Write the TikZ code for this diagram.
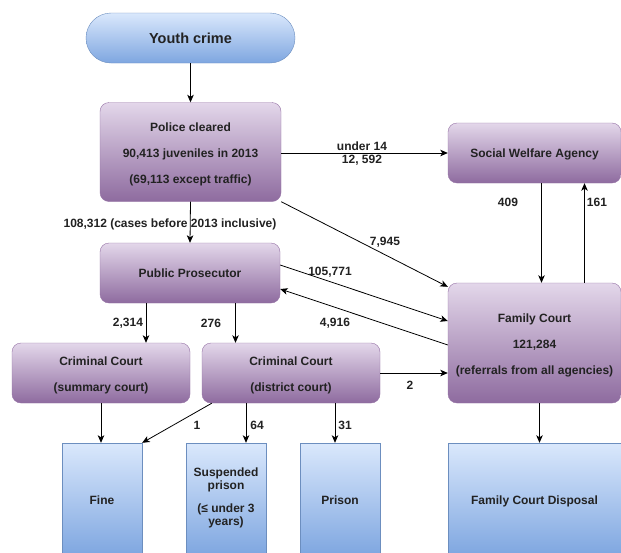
\documentclass[tikz,border=0pt]{standalone}
\usepackage{fontspec}
\setmainfont{Liberation Sans}
\usetikzlibrary{arrows.meta,calc}
\definecolor{pTop}{HTML}{E3D7EA}
\definecolor{pBot}{HTML}{8E6B9F}
\definecolor{pEdge}{HTML}{9673A6}
\definecolor{bTop}{HTML}{DAE8FC}
\definecolor{bBot}{HTML}{7EA6E0}
\definecolor{bEdge}{HTML}{6C8EBF}
\definecolor{txt}{HTML}{222222}
\newcommand\myOneStrut{\rule[-3pt]{0pt}{15pt}}
\newcommand\myDepthStrut[1]{\rule[-#1]{0pt}{#1}}
\begin{document}
\begin{tikzpicture}[x=1pt,y=-1pt,
  pbox/.style={draw=pEdge, rounded corners=9pt, top color=pTop, bottom color=pBot,
    font=\bfseries\fontsize{12}{26}\selectfont, align=center, inner sep=0pt, text=txt},
  bbox/.style={draw=bEdge, top color=bTop, bottom color=bBot,
    font=\bfseries\fontsize{12}{13}\selectfont, align=center, inner sep=0pt, text=txt},
  arr/.style={-{Stealth[length=7.5pt,width=6.5pt,inset=2pt]}, line width=0.8pt},
  lab/.style={font=\bfseries\fontsize{12}{13}\selectfont, inner sep=0pt, text=txt, align=center}]
\fill[white] (0,0) rectangle (621,552);
\useasboundingbox (0,0) rectangle (621,552);

% nodes
\node[draw=bEdge, rounded corners=25pt, top color=bTop, bottom color=bBot,
      minimum width=209pt, minimum height=50pt, inner sep=0pt, text=txt,
      font=\bfseries\fontsize{14.5}{16}\selectfont] (yc) at (190.5,38)
      {\rule[-3.6pt]{0pt}{17.6pt}Youth crime};
\node[pbox, minimum width=181pt, minimum height=99pt] (pol) at (190.5,152)
  {\rule{0pt}{14.6pt}Police cleared\\90,413 juveniles in 2013\\(69,113 except traffic)\myDepthStrut{3pt}};
\node[pbox, minimum width=173pt, minimum height=60pt] (swa) at (534.5,153) {\myOneStrut Social Welfare Agency};
\node[pbox, minimum width=180pt, minimum height=60pt] (pros) at (190,273) {\myOneStrut Public Prosecutor};
\node[pbox, minimum width=173pt, minimum height=120pt] (fc) at (534.5,343)
  {\rule{0pt}{14.6pt}Family Court\\121,284\\(referrals from all agencies)\myDepthStrut{3pt}};
\node[pbox, minimum width=178pt, minimum height=60pt] (sc) at (101,373)
  {\rule{0pt}{13.6pt}Criminal Court\\(summary court)\myDepthStrut{3pt}};
\node[pbox, minimum width=178pt, minimum height=60pt] (dc) at (291,373)
  {\rule{0pt}{13.6pt}Criminal Court\\(district court)\myDepthStrut{3pt}};
\node[bbox, minimum width=80pt, minimum height=113pt] (fine) at (102,499.5) {\myOneStrut Fine};
\node[bbox, minimum width=80pt, minimum height=113pt] (susp) at (226,499.5)
  {Suspended\\prison\\[10pt](≤ under 3\\years)\myDepthStrut{6.2pt}};
\node[bbox, minimum width=80pt, minimum height=113pt] (pri) at (340,499.5) {\myOneStrut Prison};
\node[bbox, minimum width=173pt, minimum height=113pt] (fcd) at (534.5,499.5) {\myOneStrut Family Court Disposal};

% helper coordinates on box edges
\path ($(swa.south)+(7,0)$) coordinate (s409)
      ($(fc.north)+(50,0)$) coordinate (f161)
      ($(pros.south)+(-44,0)$) coordinate (p2314)
      ($(pros.south)+(45.5,0)$) coordinate (p276)
      ($(dc.south west)+(10,0)$) coordinate (d1)
      ($(dc.south)+(-45,0)$) coordinate (d64)
      ($(dc.south)+(44,0)$) coordinate (d31)
      ($(fc.south)+(5,0)$) coordinate (fdown)
      ($(fc.north west)+(0,4)$) coordinate (fnw)
      ($(pros.east)+(0,-8)$) coordinate (pe1)
      ($(fc.west)+(0,-22)$) coordinate (fw1)
      ($(fc.west)+(0,2)$) coordinate (fw2)
      ($(pros.east)+(0,16)$) coordinate (pe2);

% connectors
\draw[arr] (yc.south) -- (yc.south |- pol.north);
\draw[arr] (pol.east |- swa.west) -- (swa.west);
\draw[arr] (pol.south) -- (pros.north);
\draw[arr] (pol.south east) -- (fnw);
\draw[arr] (pe1) -- (fw1);
\draw[arr] (fw2) -- (pe2);
\draw[arr] (s409) -- (s409 |- fc.north);
\draw[arr] (f161) -- (f161 |- swa.south);
\draw[arr] (p2314) -- (p2314 |- sc.north);
\draw[arr] (p276) -- (p276 |- dc.north);
\draw[arr] (dc.east) -- (dc.east -| fc.west);
\draw[arr] (sc.south) -- (sc.south |- fine.north);
\draw[arr] (d1) -- (fine.north east);
\draw[arr] (d64) -- (d64 |- susp.north);
\draw[arr] (d31) -- (d31 |- pri.north);
\draw[arr] (fdown) -- (fdown |- fcd.north);

% labels
\node[lab] (l14) at (362,154) {under 14\\12, 592};
\node[lab] (l108) at (170,224) {108,312 (cases before 2013 inclusive)};
\node[lab] (l7945) at (385,242) {7,945};
\node[lab] (l105) at (330,272) {105,771};
\node[lab] (l4916) at (335,323) {4,916};
\node[lab] (l409) at (508,202) {409};
\node[lab] (l161) at (597,202) {161};
\node[lab] (l2314) at (128,323) {2,314};
\node[lab] (l276) at (211,323) {276};
\node[lab] (l2) at (410,385) {2};
\node[lab] (l1) at (197,425) {1};
\node[lab] (l64) at (257,425) {64};
\node[lab] (l31) at (345,425) {31};
\end{tikzpicture}
\end{document}
